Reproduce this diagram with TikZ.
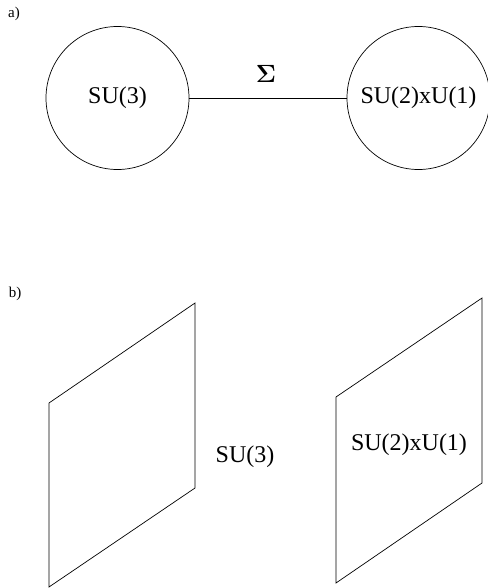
\documentclass[tikz,border=0pt]{standalone}
\usepackage{fontspec}
\setmainfont{Liberation Serif}
\usetikzlibrary{positioning}

\tikzset{
  group/.style={draw, circle, minimum size=143pt, inner sep=0pt, font=\fontsize{24}{28}\selectfont},
  grouptext/.style={font=\fontsize{24}{28}\selectfont},
  panel/.style={font=\fontsize{15}{18}\selectfont},
}

\begin{document}
\begin{tikzpicture}[x=1pt, y=-1pt, line width=0.7pt]
    \useasboundingbox (0,0) rectangle (487,588);

    % Panel a)
    \node[panel] (laba) at (14,14) {a)};
    \node[group] (su3) at (117.5,98) {SU(3)};
    \node[group] (su21) at (418.5,98) {SU(2)xU(1)};
    \draw (su3) -- (su21);
    \node[font=\fontsize{26}{30}\selectfont\boldmath] (sigma) at (266,74) {$\Sigma$};

    % Panel b)
    \node[panel] (labb) at (15,294) {b)};
    \draw (49,403) -- (195,303) -- (195,488) -- (49,587) -- cycle;
    \draw (336,397) -- (482,298) -- (482,483) -- (336,583) -- cycle;
    \node[grouptext] (su3b) at (245,457) {SU(3)};
    \node[grouptext] (su21b) at (409,445) {SU(2)xU(1)};
\end{tikzpicture}
\end{document}
